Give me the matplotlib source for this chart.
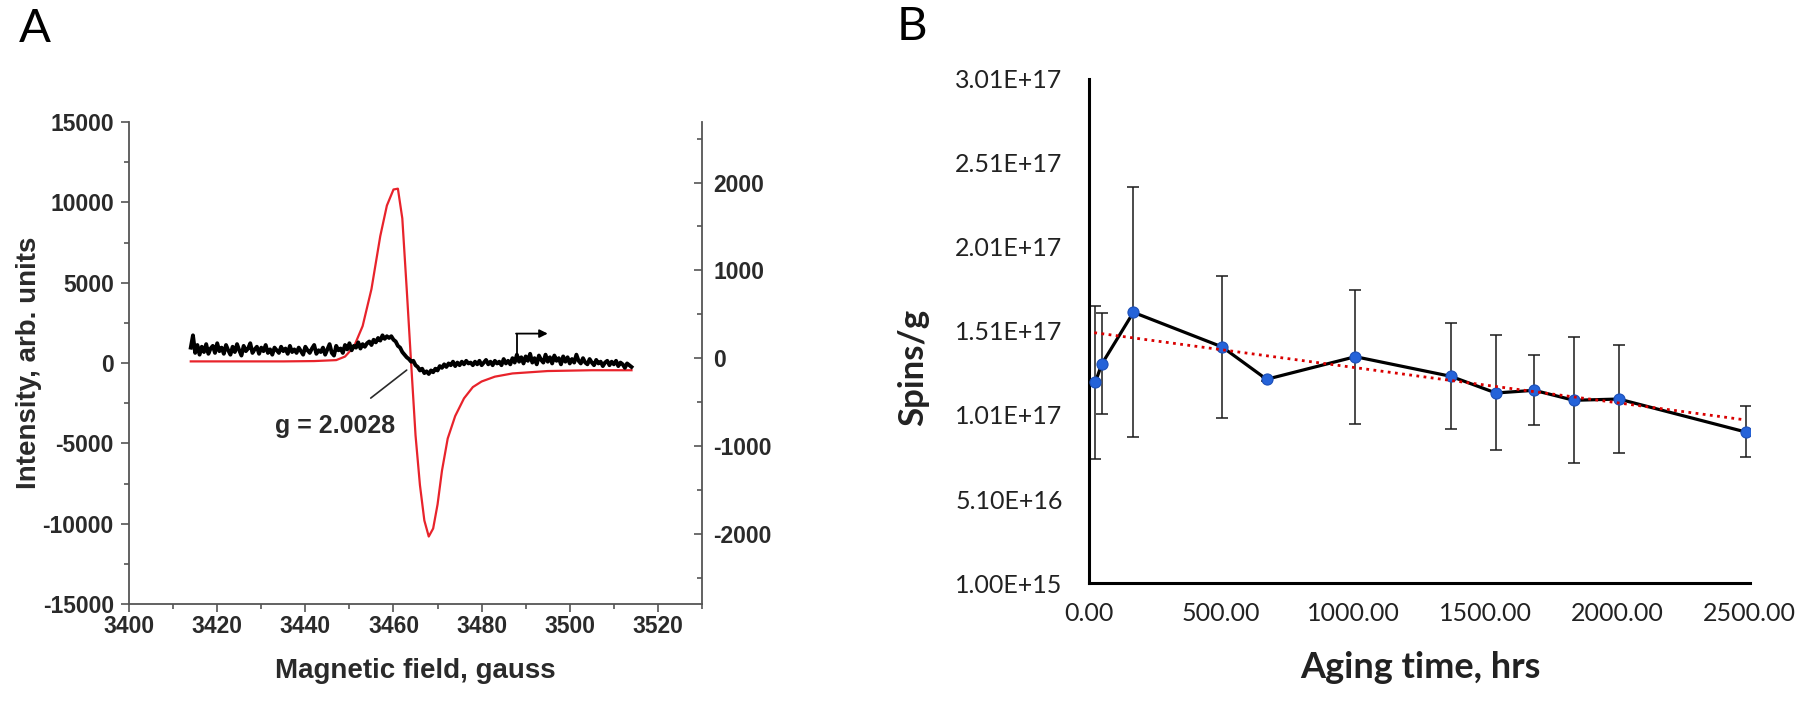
import numpy as np
import matplotlib
matplotlib.use("Agg")
import matplotlib.pyplot as plt
from matplotlib.ticker import MultipleLocator

plt.rcParams["axes.unicode_minus"] = False

# ---- panel A: EPR spectrum ----
red_x = [3414, 3425, 3435, 3442, 3447, 3449, 3451, 3453, 3455, 3457, 3458.5, 3460,
         3461, 3462, 3463, 3464, 3465, 3466, 3467, 3468, 3469, 3470, 3471, 3472.3,
         3474, 3476, 3478, 3480, 3483, 3487, 3495, 3505, 3514]
red_y = [100, 100, 100, 120, 180, 400, 1000, 2300, 4600, 7900, 9800, 10800,
         10850, 9000, 4600, 0, -4500, -7600, -9800, -10800, -10300, -8800, -6700, -4700,
         -3300, -2200, -1500, -1150, -850, -650, -500, -450, -450]

# black trace (right axis), every 0.5 G from 3414 to 3514
black_start, black_step = 3414.0, 0.5
black_y = [
    120, 260, 60, 150, 40, 130, 70, 160, 50, 110,
    140, 60, 170, 80, 120, 50, 150, 90, 40, 130,
    70, 160, 90, 30, 140, 80, 110, 170, 60, 100,
    130, 50, 120, 80, 150, 60, 100, 40, 120, 90,
    60, 130, 80, 110, 50, 140, 70, 100, 60, 120,
    80, 40, 130, 90, 60, 110, 150, 50, 90, 70,
    120, 40, 100, 160, 60, 30, 140, 90, 110, 60,
    150, 100, 170, 90, 140, 120, 180, 110, 160, 130,
    170, 190, 150, 210, 180, 230, 200, 260, 220, 250,
    230, 250, 210, 190, 140, 120, 70, 40, 10, -10,
    -40, -30, -80, -100, -140, -120, -170, -150, -180, -140,
    -160, -120, -140, -90, -110, -70, -100, -60, -80, -40,
    -90, -50, -80, -40, -70, -30, -60, -50, -80, -40,
    -70, -30, -80, -50, -20, -70, -40, -80, -30, -60,
    -40, -80, -10, -60, -30, -70, 0, -50, 40, -40,
    10, -60, 20, -30, 50, -50, 0, -70, 30, -20,
    -50, 40, -40, 10, -60, 30, -30, 0, -70, 20,
    -40, 10, -60, -10, -50, 40, -30, -60, 0, -50,
    -70, -10, -50, -80, -20, -60, -40, -90, -50, -30,
    -80, -40, -70, -30, -90, -50, -70, -110, -60, -80,
    -100]
black_x = black_start + black_step * np.arange(len(black_y))

# ---- panel B: spins vs aging time ----
aging_hrs = [24, 48, 168, 504, 672, 1008, 1370, 1540, 1685, 1835, 2005, 2485]
spins = [1.205e17, 1.312e17, 1.621e17, 1.415e17, 1.2225e17, 1.357e17,
         1.240e17, 1.141e17, 1.157e17, 1.0975e17, 1.105e17, 9.09e16]
err_hi = [1.659e17, 1.615e17, 2.369e17, 1.839e17, 1.235e17, 1.756e17,
          1.556e17, 1.484e17, 1.367e17, 1.474e17, 1.428e17, 1.065e17]
err_lo = [7.50e16, 1.014e17, 8.77e16, 9.94e16, 1.21e17, 9.55e16,
          9.28e16, 8.03e16, 9.52e16, 7.24e16, 7.82e16, 7.58e16]
trend_x = [20, 2478]
trend_y = [1.50e17, 9.82e16]
b_yticks = [1.00e15, 5.10e16, 1.01e17, 1.51e17, 2.01e17, 2.51e17, 3.01e17]
b_yticklabels = ["1.00E+15", "5.10E+16", "1.01E+17", "1.51E+17", "2.01E+17", "2.51E+17", "3.01E+17"]
b_xticks = [0, 500, 1000, 1500, 2000, 2500]
b_xticklabels = ["0.00", "500.00", "1000.00", "1500.00", "2000.00", "2500.00"]

fig = plt.figure(figsize=(18, 7.02), dpi=100)

# ---------------- A ----------------
gray = "#2a2a2a"
afont = "Liberation Sans"
axA = fig.add_axes([0.0717, 0.1396, 0.3183, 0.6866])
axA.plot(red_x, red_y, color="#e8232b", lw=1.6, zorder=2)
axA.set_xlim(3400, 3530)
axA.set_ylim(-15000, 15000)
axA.xaxis.set_major_locator(MultipleLocator(20))
axA.xaxis.set_minor_locator(MultipleLocator(10))
axA.yaxis.set_major_locator(MultipleLocator(5000))
axA.yaxis.set_minor_locator(MultipleLocator(2500))
axA.spines["top"].set_visible(False)
axA.spines["right"].set_visible(False)
for s in ["left", "bottom"]:
    axA.spines[s].set_color("#555555")
    axA.spines[s].set_linewidth(1.3)
axA.tick_params(which="both", direction="out", colors="#555555", width=1.2,
                labelcolor=gray, labelsize=16.5)
axA.tick_params(axis="y", pad=5)
axA.tick_params(axis="x", pad=2)
axA.tick_params(which="major", length=6)
axA.tick_params(which="minor", length=3.5)
for lab in axA.get_xticklabels() + axA.get_yticklabels():
    lab.set_fontweight("bold")
    lab.set_family(afont)
axA.set_xlabel("Magnetic field, gauss", fontsize=20, fontweight="bold", color=gray, family=afont)
axA.set_ylabel("Intensity, arb. units", fontsize=20, fontweight="bold", color=gray, family=afont)
axA.xaxis.set_label_coords(0.5, -0.112)
axA.yaxis.set_label_coords(-0.152, 0.5)

axA2 = axA.twinx()
axA2.plot(black_x, black_y, color="black", lw=2.8, zorder=3)
axA2.set_ylim(-2800, 2690)
axA2.yaxis.set_major_locator(MultipleLocator(1000))
axA2.yaxis.set_minor_locator(MultipleLocator(500))
for s in ["top", "left", "bottom"]:
    axA2.spines[s].set_visible(False)
axA2.spines["right"].set_color("#555555")
axA2.spines["right"].set_linewidth(1.3)
axA2.tick_params(which="both", direction="in", colors="#555555", width=1.2,
                 labelcolor=gray, labelsize=16.5, pad=8)
axA2.tick_params(which="major", length=6)
axA2.tick_params(which="minor", length=3.5)
for lab in axA2.get_yticklabels():
    lab.set_fontweight("bold")
    lab.set_family(afont)

# small arrow marking the right-axis trace
axA2.plot([3488, 3488], [60, 280], color="black", lw=1.3)
axA2.annotate("", xy=(3495, 280), xytext=(3487.8, 280),
              arrowprops=dict(arrowstyle="-|>", color="black", lw=1.3,
                              mutation_scale=12, shrinkA=0, shrinkB=0))
# g-value label
axA.annotate("g = 2.0028", xy=(3463, -440), xytext=(3446.8, -3900),
             fontsize=18, fontweight="bold", color=gray, family=afont,
             ha="center", va="center",
             arrowprops=dict(arrowstyle="-", color=gray, lw=1.2,
                             shrinkA=15, shrinkB=0))
fig.text(0.0192, 0.940, "A", fontsize=34, family="Lato", ha="center", va="baseline")

# ---------------- B ----------------
axB = fig.add_axes([0.605, 0.1695, 0.367, 0.718])
spins_arr = np.array(spins)
yerr = [spins_arr - np.array(err_lo), np.array(err_hi) - spins_arr]
axB.errorbar(aging_hrs, spins, yerr=yerr, fmt="none", ecolor="#1a1a1a",
             elinewidth=1.1, capsize=4.5, capthick=1.1, zorder=1)
axB.plot(aging_hrs, spins, color="black", lw=2.3, zorder=2)
axB.plot(aging_hrs, spins, "o", color="#2563d9", mec="#1c4fb8", mew=0.8,
         ms=8, zorder=3)
axB.plot(trend_x, trend_y, color="#d90000", lw=2.0, linestyle=(0, (1, 1.6)), zorder=4)
axB.set_xlim(0, 2500)
axB.set_ylim(1.00e15, 3.01e17)
axB.set_yticks(b_yticks)
axB.set_yticklabels(b_yticklabels)
axB.set_xticks(b_xticks)
axB.set_xticklabels(b_xticklabels)
for s in ["top", "right"]:
    axB.spines[s].set_visible(False)
for s in ["left", "bottom"]:
    axB.spines[s].set_linewidth(2.2)
    axB.spines[s].set_color("black")
axB.tick_params(axis="both", length=0, labelsize=18, labelcolor="#222222")
axB.tick_params(axis="y", pad=19)
axB.tick_params(axis="x", pad=14)
for lab in axB.get_xticklabels() + axB.get_yticklabels():
    lab.set_family("Lato")
axB.set_xlabel("Aging time, hrs", fontsize=26, family="Lato", fontweight="bold", color="#222222")
axB.set_ylabel("Spins/g", fontsize=25, family="Lato", fontweight="bold", color="#222222")
axB.xaxis.set_label_coords(0.5015, -0.135)
axB.yaxis.set_label_coords(-0.242, 0.4276)
fig.text(0.5064, 0.943, "B", fontsize=34, family="Lato", ha="center", va="baseline")

fig.savefig("out.png", dpi=100, facecolor="white")
